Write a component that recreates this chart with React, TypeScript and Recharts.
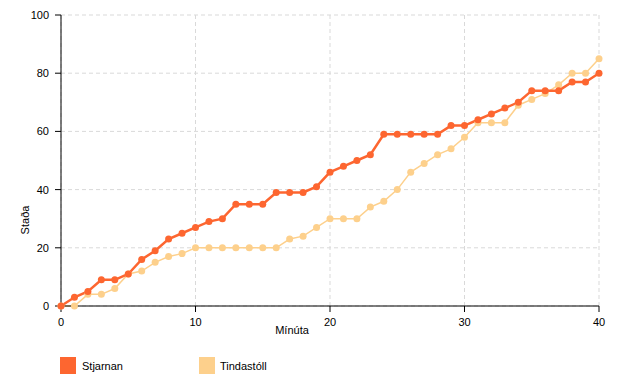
import { LineChart, Line, XAxis, YAxis, CartesianGrid } from 'recharts';

const minutes = [
  0, 1, 2, 3, 4, 5, 6, 7, 8, 9, 10, 11, 12, 13, 14, 15, 16, 17, 18, 19, 20,
  21, 22, 23, 24, 25, 26, 27, 28, 29, 30, 31, 32, 33, 34, 35, 36, 37, 38, 39, 40,
];
const stjarnan = [
  0, 3, 5, 9, 9, 11, 16, 19, 23, 25, 27, 29, 30, 35, 35, 35, 39, 39, 39, 41, 46,
  48, 50, 52, 59, 59, 59, 59, 59, 62, 62, 64, 66, 68, 70, 74, 74, 74, 77, 77, 80,
];
const tindastoll = [
  0, 0, 4, 4, 6, 11, 12, 15, 17, 18, 20, 20, 20, 20, 20, 20, 20, 23, 24, 27, 30,
  30, 30, 34, 36, 40, 46, 49, 52, 54, 58, 63, 63, 63, 69, 71, 73, 76, 80, 80, 85,
];
const xTicks = [0, 10, 20, 30, 40];
const yTicks = [0, 20, 40, 60, 80, 100];

const STJ = '#fd6630';
const TIN = '#fdd08c';

const data = minutes.map((m, i) => ({
  minute: m,
  Stjarnan: stjarnan[i],
  Tindastoll: tindastoll[i],
}));

const tickStyle = { fontSize: 11, fill: '#000', fontFamily: 'Liberation Sans, Arial, sans-serif' };

export default function App() {
  return (
    <div style={{ position: 'absolute', left: 0, top: 0, width: 625, height: 390, background: '#fff', fontFamily: 'Liberation Sans, Arial, sans-serif' }}>
      <LineChart width={625} height={390} data={data} margin={{ top: 15, right: 26, left: 0, bottom: 54 }}>
        <CartesianGrid stroke="#d9d9d9" strokeDasharray="4 3" />
        <XAxis
          dataKey="minute"
          type="number"
          domain={[0, 40]}
          ticks={xTicks}
          height={30}
          stroke="#000"
          tickSize={6}
          tickMargin={6}
          tick={tickStyle}
          label={{
            content: () => (
              <text x={292} y={334} textAnchor="middle" fontSize={11} fill="#000">Mínúta</text>
            ),
          }}
        />
        <YAxis
          type="number"
          domain={[0, 100]}
          ticks={yTicks}
          width={61}
          stroke="#000"
          tickSize={6}
          tickMargin={6}
          tick={tickStyle}
          label={{
            content: () => (
              <text x={29} y={220} transform="rotate(-90 29 220)" textAnchor="middle" fontSize={11} fill="#000">Staða</text>
            ),
          }}
        />
        <Line
          dataKey="Tindastoll"
          stroke={TIN}
          strokeWidth={1.5}
          dot={{ r: 3.5, fill: TIN, stroke: 'none' }}
          isAnimationActive={false}
        />
        <Line
          dataKey="Stjarnan"
          stroke={STJ}
          strokeWidth={2.5}
          dot={{ r: 3.5, fill: STJ, stroke: 'none' }}
          isAnimationActive={false}
        />
      </LineChart>
      <div style={{ position: 'absolute', left: 60, top: 357, display: 'flex', alignItems: 'center', fontSize: 11 }}>
        <div style={{ width: 16, height: 17, background: STJ }} />
        <span style={{ marginLeft: 6, width: 117 }}>Stjarnan</span>
        <div style={{ width: 16, height: 17, background: TIN }} />
        <span style={{ marginLeft: 5 }}>Tindastóll</span>
      </div>
    </div>
  );
}
